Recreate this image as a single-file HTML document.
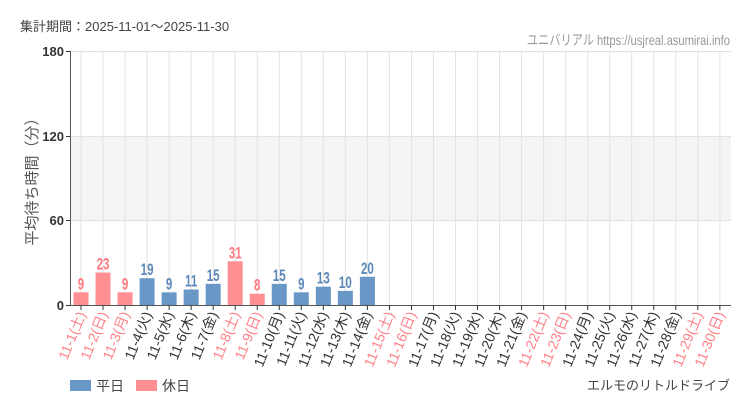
<!DOCTYPE html>
<html><head><meta charset="utf-8"><style>
body{margin:0;background:#fff;}
svg text{font-family:"Liberation Sans","Noto Sans CJK JP",sans-serif;}
</style></head><body>
<svg width="750" height="410" xmlns="http://www.w3.org/2000/svg">
<rect width="750" height="410" fill="#fff"/>
<text x="20" y="31" font-size="13" fill="#444">集計期間：2025-11-01～2025-11-30</text>
<text x="730" y="45" font-size="14" fill="#999" text-anchor="end" transform="translate(730,0) scale(0.8,1) translate(-730,0)">ユニバリアル  https://usjreal.asumirai.info</text>
<rect x="70" y="136" width="661" height="84" fill="#f4f4f4"/>
<g stroke="#e2e2e2" stroke-width="1">
<line x1="70" y1="51.5" x2="731" y2="51.5"/>
<line x1="70" y1="136.5" x2="731" y2="136.5"/>
<line x1="70" y1="220.5" x2="731" y2="220.5"/>
<g id="vg"></g>
</g>
<g id="bars"></g>
<line x1="70.5" y1="51" x2="70.5" y2="305" stroke="#555"/>
<line x1="70" y1="305.5" x2="731" y2="305.5" stroke="#555"/>
<g font-size="13" fill="#333" text-anchor="end" font-weight="bold">
<text x="64" y="56">180</text><text x="64" y="141">120</text><text x="64" y="225">60</text><text x="64" y="310">0</text>
</g>
<g stroke="#333"><line x1="66" y1="51.5" x2="70" y2="51.5"/><line x1="66" y1="136.5" x2="70" y2="136.5"/><line x1="66" y1="220.5" x2="70" y2="220.5"/><line x1="66" y1="305.5" x2="70" y2="305.5"/></g>
<text transform="translate(37,178) rotate(-90)" font-size="15" fill="#555" text-anchor="middle">平均待ち時間（分）</text>
<g id="labels"></g>
<rect x="70" y="380" width="21" height="11" fill="#6a98c6"/>
<text x="96" y="391" font-size="14" fill="#444">平日</text>
<rect x="136" y="380" width="21" height="11" fill="#ff8f93"/>
<text x="162" y="391" font-size="14" fill="#444">休日</text>
<text x="730" y="390" font-size="13" fill="#444" text-anchor="end">エルモのリトルドライブ</text>
</svg>
<script>
var ns="http://www.w3.org/2000/svg";
var vals=[9,23,9,19,9,11,15,31,8,15,9,13,10,20];
var wd=["土","日","月","火","水","木","金"];
function mk(t,a,p,txt){var e=document.createElementNS(ns,t);for(var k in a)e.setAttribute(k,a[k]);if(txt!=null)e.textContent=txt;p.appendChild(e);return e;}
var vg=document.getElementById("vg"),bars=document.getElementById("bars"),lb=document.getElementById("labels");
for(var i=0;i<30;i++){
 var cx=70+11+22.03*i;
 var w=wd[i%7];
 var red=(w=="土"||w=="日"||i==2||i==22);
 mk("line",{x1:cx,y1:51,x2:cx,y2:305},vg);
 mk("line",{x1:cx,y1:305,x2:cx,y2:310,stroke:"#333"},lb);
 mk("text",{transform:"translate("+(cx+5)+",314) rotate(-68)","font-size":"14","text-anchor":"end",fill:red?"#ff8087":"#333"},lb,"11-"+(i+1)+"("+w+")");
 if(i<vals.length){
  var v=vals[i],h=v*254/180,col=red?"#ff8f93":"#6a98c6";
  mk("rect",{x:cx-7.5,y:305-h,width:15,height:h,fill:col},bars);
  mk("text",{x:0,y:0,"font-size":"17","font-weight":"bold","text-anchor":"middle",fill:red?"#ff7a80":"#5b88b8",transform:"translate("+cx+","+(302-h)+") scale(0.68,1)"},bars,v);
 }
}
</script>
</body></html>
